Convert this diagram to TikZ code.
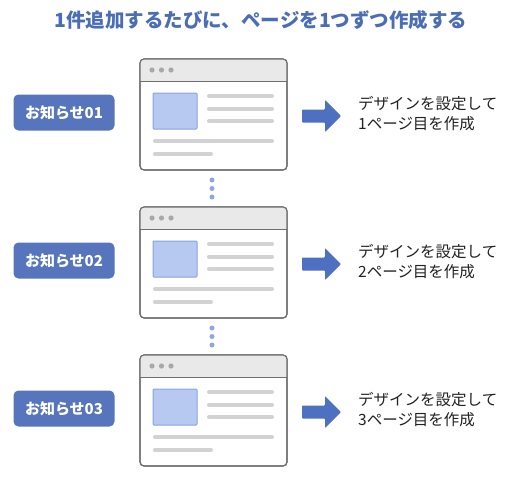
\documentclass[tikz,border=0pt]{standalone}
\usepackage{fontspec}
\setmainfont{Noto Sans CJK JP}
\definecolor{titleblue}{HTML}{4A6DB5}
\definecolor{labelblue}{HTML}{5775BC}
\definecolor{winborder}{HTML}{6E6E6E}
\definecolor{barfill}{HTML}{E9E9E9}
\definecolor{linegray}{HTML}{D2D2D2}
\definecolor{dotgray}{HTML}{A8A8A8}
\definecolor{imgfill}{HTML}{B7C9F1}
\definecolor{imgborder}{HTML}{86A2E2}
\definecolor{vdot}{HTML}{8EA7E2}
\definecolor{arrowblue}{HTML}{4E70C0}
\definecolor{txt}{HTML}{222222}
\tikzset{
  x=1pt, y=-1pt,
  label box/.style={fill=labelblue, rounded corners=5pt, minimum width=101pt, minimum height=36pt, inner sep=0pt, text=white, font=\fontsize{15}{18}\selectfont\bfseries},
  window/.style={draw=winborder, line width=1.1pt, fill=white, rounded corners=4pt},
  bar line/.style={draw=linegray, line width=4pt, line cap=round},
  tdot/.style={fill=dotgray},
  vdotst/.style={fill=vdot},
  img/.style={fill=imgfill, draw=imgborder, line width=1pt, rounded corners=1pt},
  bigarrow/.style={fill=arrowblue, rounded corners=0.8pt},
  desc/.style={anchor=west, align=left, text=txt, font=\fontsize{15.5}{19.5}\selectfont, inner sep=0pt},
}
\begin{document}
\begin{tikzpicture}
\useasboundingbox (0,0) rectangle (513,477);
\fill[white] (0,0) rectangle (513,477);
\node[text=titleblue, font=\fontsize{19.5}{22}\selectfont\bfseries] (title) at (261,20) {1件追加するたびに、ページを1つずつ作成する};
\foreach \i/\n in {0/1,1/2,2/3} {
  \begin{scope}[yshift=-\i*148pt]
    \node[label box] (lab\n) at (64,112.5) {お知らせ0\n};
    \path[window] (140,59) rectangle (287,170);
    \begin{scope}
      \clip[rounded corners=4pt] (140,59) rectangle (287,170);
      \fill[barfill] (140,59) rectangle (287,81);
    \end{scope}
    \draw[winborder, line width=0.8pt] (140,81) -- (287,81);
    \draw[window, fill=none] (140,59) rectangle (287,170);
    \fill[tdot] (152,70) circle (2.6);
    \fill[tdot] (161.5,70) circle (2.6);
    \fill[tdot] (171,70) circle (2.6);
    \path[img] (153,93) rectangle (197,129);
    \draw[bar line] (209,96) -- (272,96);
    \draw[bar line] (209,108.5) -- (272,108.5);
    \draw[bar line] (209,121) -- (272,121);
    \draw[bar line] (155,141) -- (272,141);
    \draw[bar line] (155,154) -- (211,154);
    \coordinate (arr\n) at (302,116);
    \fill[bigarrow] (arr\n) ++(0,-6.5) -- ++(23,0) -- ++(0,-9.5) -- ++(16,16) -- ++(-16,16) -- ++(0,-9.5) -- ++(-23,0) -- cycle;
    \node[desc] (d\n) at (358,113.5) {デザインを設定して\\\n ページ目を作成};
  \end{scope}
}
\foreach \y in {180,188.5,197,328,336.5,345} {
  \fill[vdotst] (212,\y) circle (2.5);
}
\end{tikzpicture}
\end{document}
